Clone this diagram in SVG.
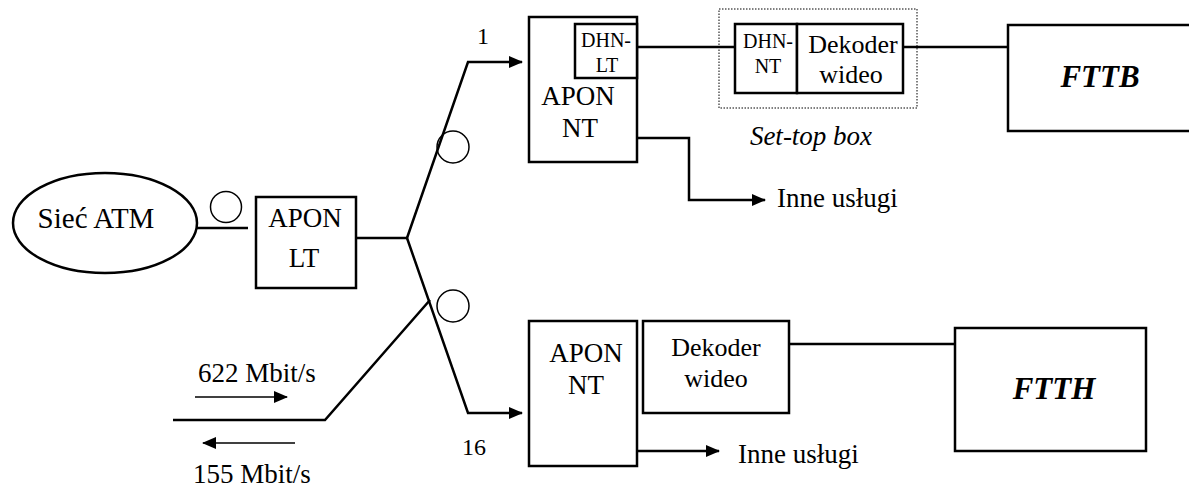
<svg xmlns="http://www.w3.org/2000/svg" width="1189" height="489" viewBox="0 0 1189 489" font-family="'Liberation Serif', 'Times New Roman', serif">
<style>
.b{fill:#fff;stroke:#000;stroke-width:2.5}
.l{fill:none;stroke:#000;stroke-width:2.5}
.c{fill:none;stroke:#000;stroke-width:1.5}
.t{font-size:27px;text-anchor:middle}
.s{font-size:20px;text-anchor:middle}
.d{font-size:26px;text-anchor:middle}
.bi{font-size:31px;font-weight:bold;font-style:italic;text-anchor:middle}
</style>
<defs>
<marker id="ah" markerWidth="14" markerHeight="12" refX="13" refY="6" orient="auto" markerUnits="userSpaceOnUse">
<path d="M0,0 L14,6 L0,12 Z" fill="#000"/>
</marker>
</defs>
<rect width="1189" height="489" fill="#fff"/>
<g id="connectors">
<line class="l" x1="195" y1="228" x2="248" y2="228"/>
<polyline class="l" points="356,238 407,238"/>
<polyline class="l" points="407,238 468,62 522,62" marker-end="url(#ah)"/>
<polyline class="l" points="407,238 468,413 522,413" marker-end="url(#ah)"/>
<polyline class="l" points="173,420 325,420 430,300"/>
<line class="l" x1="637" y1="47" x2="735" y2="47"/>
<line class="l" x1="903" y1="47" x2="1008" y2="47"/>
<polyline class="l" points="637,138 689,138 689,200 765,200" marker-end="url(#ah)"/>
<line class="l" x1="789" y1="344" x2="955" y2="344"/>
<line class="l" x1="637" y1="451" x2="719" y2="451" marker-end="url(#ah)"/>
<line class="c" x1="195" y1="397" x2="287" y2="397" stroke-width="2" marker-end="url(#ah)"/>
<line class="c" x1="295" y1="443" x2="203" y2="443" stroke-width="2" marker-end="url(#ah)"/>
</g>
<g id="fiber-loops">
<circle class="c" cx="226" cy="207" r="15.5"/>
<circle class="c" cx="453" cy="147" r="16"/>
<circle class="c" cx="453" cy="306" r="16"/>
</g>
<g id="siec-atm">
<ellipse class="b" cx="105" cy="223" rx="92" ry="50"/>
<text x="96" y="228" font-size="29" text-anchor="middle">Sieć ATM</text>
</g>
<g id="apon-lt">
<rect class="b" x="256" y="197" width="100" height="91"/>
<text x="305" y="227" class="t">APON</text>
<text x="304" y="267" class="t">LT</text>
</g>
<g id="apon-nt-1">
<rect class="b" x="529" y="17" width="108" height="145"/>
<text x="578" y="105" class="t">APON</text>
<text x="580" y="137" class="t">NT</text>
</g>
<g id="dhn-lt">
<rect class="b" x="575" y="24" width="62" height="54"/>
<text x="606" y="47" class="s">DHN-</text>
<text x="607" y="72" class="s">LT</text>
</g>
<g id="set-top-box">
<rect x="719" y="9" width="198" height="99" fill="none" stroke="#000" stroke-width="1" stroke-dasharray="1.5,1.5"/>
<text x="811" y="145" font-size="27" font-style="italic" text-anchor="middle">Set-top box</text>
</g>
<g id="dhn-nt">
<rect class="b" x="735" y="24" width="62" height="69"/>
<text x="768" y="48" class="s">DHN-</text>
<text x="768" y="73" class="s">NT</text>
</g>
<g id="dekoder-1">
<rect class="b" x="797" y="24" width="106" height="69"/>
<text x="853" y="53" class="d">Dekoder</text>
<text x="851" y="83" class="d">wideo</text>
</g>
<g id="fttb">
<rect class="b" x="1008" y="25" width="190" height="106"/>
<text x="1100" y="87" class="bi">FTTB</text>
</g>
<g id="apon-nt-16">
<rect class="b" x="529" y="321" width="108" height="145"/>
<text x="586" y="362" class="t">APON</text>
<text x="586" y="394" class="t">NT</text>
</g>
<g id="dekoder-2">
<rect class="b" x="643" y="321" width="146" height="92"/>
<text x="716" y="356" class="d">Dekoder</text>
<text x="716" y="387" class="d">wideo</text>
</g>
<g id="ftth">
<rect class="b" x="955" y="328" width="191" height="123"/>
<text x="1054" y="399" class="bi">FTTH</text>
</g>
<g id="labels">
<text x="477" y="44" font-size="24">1</text>
<text x="462" y="455" font-size="24">16</text>
<text x="777" y="207" font-size="27">Inne usługi</text>
<text x="738" y="463" font-size="27">Inne usługi</text>
<text x="198" y="382" font-size="27">622 Mbit/s</text>
<text x="193" y="483" font-size="27">155 Mbit/s</text>
</g>
</svg>
